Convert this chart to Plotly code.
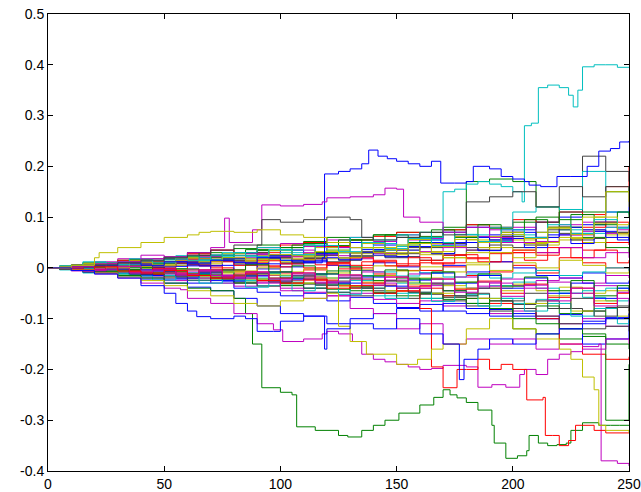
import plotly.graph_objects as go

# ---- data ----
steps = [0, 10, 20, 30, 40, 50, 60, 70, 80, 90, 100, 110, 120, 130, 140, 150,
         160, 170, 180, 190, 200, 210, 220, 230, 240, 250]
steps_b = [0, 5, 15, 25, 35, 45, 55, 65, 75, 85, 95, 105, 115, 125, 135, 145,
           155, 165, 175, 185, 195, 205, 215, 225, 235, 245, 250]

bg01 = [0, .004, .010, .006, .015, .020, .012, .025, .030, .022, .035, .028, .040, .050, .045, .060, .055, .070, .080, .065, .075, .090, .100, .085, .110, .120]
bg02 = [0, -.003, -.008, -.012, -.006, -.015, -.020, -.018, -.030, -.025, -.035, -.040, -.032, -.045, -.050, -.040, -.060, -.055, -.070, -.065, -.080, -.075, -.090, -.085, -.100, -.095]
bg03 = [0, .002, .006, .012, .008, .018, .025, .020, .015, .030, .022, .018, .010, .005, .015, .008, -.005, .010, .020, .012, .030, .025, .040, .035, .050, .045]
bg04 = [0, -.005, -.002, -.010, -.018, -.012, -.025, -.030, -.022, -.035, -.028, -.040, -.048, -.040, -.055, -.050, -.060, -.045, -.052, -.060, -.070, -.062, -.050, -.058, -.065, -.060]
bg05 = [0, .005, .012, .018, .025, .020, .030, .035, .028, .040, .048, .042, .055, .060, .052, .065, .058, .070, .062, .075, .080, .070, .085, .090, .080, .085]
bg06 = [0, -.004, -.010, -.006, -.014, -.020, -.015, -.008, -.018, -.012, -.025, -.018, -.030, -.022, -.015, -.028, -.020, -.035, -.028, -.040, -.032, -.045, -.038, -.050, -.045, -.040]
bg07 = [0, .003, .000, .008, .004, .012, .006, .015, .010, .018, .025, .020, .030, .024, .035, .028, .040, .048, .040, .055, .050, .060, .068, .058, .070, .075]
bg08 = [0, -.002, -.006, -.010, -.015, -.022, -.030, -.025, -.040, -.048, -.055, -.050, -.065, -.058, -.070, -.078, -.072, -.085, -.090, -.082, -.095, -.100, -.092, -.105, -.098, -.090]
bg09 = [0, .006, .010, .015, .012, .022, .030, .025, .038, .045, .040, .052, .060, .055, .065, .070, .062, .075, .085, .078, .090, .100, .095, .110, .150, .160]
bg10 = [0, -.003, .002, -.005, .004, -.002, .006, .000, -.008, .004, -.010, -.004, .008, .000, -.012, -.005, .010, .002, -.015, -.008, .005, -.010, .020, .010, .000, -.005]
bg11 = [0, .004, .008, .005, .012, .018, .014, .022, .018, .026, .030, .024, .035, .040, .048, .042, .055, .050, .060, .052, .065, .070, .075, .068, .080, .085]
bg12 = [0, -.006, -.012, -.008, -.018, -.025, -.020, -.030, -.036, -.028, -.040, -.048, -.055, -.050, -.062, -.070, -.065, -.075, -.080, -.090, -.085, -.095, -.110, -.100, -.115, -.105]
bg13 = [0, .002, .006, .002, .010, .005, .014, .020, .015, .024, .018, .028, .035, .030, .040, .035, .048, .042, .055, .062, .055, .070, .080, .075, .065, .060]
bg14 = [0, -.002, -.006, -.003, -.010, -.016, -.012, -.020, -.014, -.025, -.020, -.032, -.026, -.038, -.045, -.040, -.050, -.058, -.050, -.065, -.072, -.065, -.080, -.085, -.078, -.070]
bg15 = [0, .003, -.002, .006, .001, .010, .004, -.004, .006, -.002, .008, .015, .005, -.005, .010, .002, -.010, .005, -.008, .012, .000, -.015, -.020, -.010, -.030, -.025]
bg16 = [0, -.004, -.008, -.004, -.012, -.008, -.016, -.022, -.028, -.022, -.034, -.030, -.042, -.036, -.048, -.055, -.050, -.062, -.070, -.080, -.120, -.130, -.140, -.135, -.150, -.160]
bg17 = [0, .005, .010, .015, .010, .020, .028, .035, .030, .040, .045, .050, .042, .055, .062, .070, .060, .075, .085, .080, .095, .090, .110, .105, .160, .200]
bg18 = [0, -.002, -.007, -.012, -.009, -.015, -.010, -.018, -.025, -.020, -.015, -.022, -.030, -.025, -.035, -.030, -.022, -.030, -.040, -.035, -.028, -.040, -.050, -.045, -.040, -.045]
bg19 = [0, .002, .004, .009, .014, .010, .018, .013, .020, .026, .022, .030, .024, .018, .028, .022, .032, .040, .035, .050, .058, .052, .065, .072, .068, .075]
bg20 = [0, -.003, -.001, -.006, -.002, -.009, -.004, -.012, -.006, .000, -.008, -.002, -.010, -.004, .004, -.006, .002, -.008, .006, -.005, .010, .000, .015, .005, -.010, -.005]
bg21 = [0, .001, .005, .010, .006, .012, .020, .016, .024, .018, .010, .018, .012, .022, .030, .022, .015, .025, .035, .045, .040, .090, .110, .220, .190, .170]
bg22 = [0, -.005, -.010, -.016, -.022, -.030, -.038, -.045, -.060, -.075, -.090, -.095, -.110, -.100, -.090, -.080, -.085, -.070, -.080, -.095, -.090, -.100, -.120, -.150, -.140, -.080]
bg23 = [0, .003, .008, .004, .012, .016, .010, .020, .028, .034, .040, .048, .044, .055, .065, .060, .070, .080, .170, .175, .170, .120, .080, .060, .040, .030]
bg24 = [0, -.002, -.004, -.009, -.013, -.008, -.015, -.020, -.015, -.025, -.030, -.024, -.035, -.040, -.034, -.046, -.040, -.055, -.060, -.070, -.080, -.100, -.150, -.170, -.180, -.175]
bg25 = [0, .002, .007, .012, .008, .016, .020, .014, .024, .020, .015, .025, .030, .040, .035, .045, .060, .070, .065, .080, .110, .120, .115, .190, .110, .105]
bg26 = [0, -.004, -.002, -.008, -.004, -.012, -.008, -.014, -.020, -.015, -.024, -.018, -.028, -.022, -.030, -.040, -.035, -.045, -.040, -.030, -.035, -.025, -.020, -.030, -.015, -.020]
bg27 = [0, .004, .002, .008, .005, .012, .018, .014, .008, .016, .012, .022, .018, .028, .024, .030, .026, .020, .030, .040, .035, .045, .055, .050, .060, .055]
bg28 = [0, -.003, -.008, -.005, -.012, -.018, -.024, -.018, -.030, -.036, -.030, -.040, -.048, -.055, -.050, -.060, -.052, -.065, -.075, -.085, -.080, -.095, -.110, -.120, -.115, -.125]
bg29 = [0, .002, .005, .002, -.004, .003, .010, .005, .012, .008, .002, .012, .020, .030, .025, .035, .050, .045, .060, .055, .070, .060, .080, .075, .060, .050]
bg30 = [0, -.002, .002, -.004, .001, -.006, -.012, -.008, -.016, -.010, -.020, -.014, -.006, -.015, -.025, -.020, -.030, -.045, -.060, -.080, -.100, -.110, -.120, -.130, -.300, -.190]
bg31 = [0, .003, .009, .004, .013, .009, .017, .012, .005, .014, .008, .000, .010, .020, .012, .004, .015, .025, .018, .028, .035, .030, .040, .080, .090, .085]
bg32 = [0, -.001, -.005, -.010, -.006, -.002, -.010, -.006, -.014, -.010, -.018, -.012, -.020, -.015, -.008, -.016, -.010, -.018, -.012, -.020, -.010, -.005, -.015, -.008, .000, -.006]

ob01 = [0, .003, -.004, .006, .012, .004, .015, .022, .014, .028, .020, .035, .026, .040, .048, .036, .055, .045, .062, .050, .070, .058, .080, .065, .090, .075, .080]
ob02 = [0, -.002, .004, -.006, .002, -.010, -.004, -.016, -.008, -.022, -.014, -.030, -.020, -.036, -.028, -.045, -.032, -.050, -.040, -.060, -.045, -.070, -.055, -.085, -.065, -.095, -.080]
ob03 = [0, .002, .008, .001, .012, .018, .008, .024, .014, .030, .020, .010, .025, .015, .032, .020, .040, .028, .050, .035, .062, .045, .075, .055, .090, .070, .060]
ob04 = [0, -.003, -.009, -.002, -.014, -.006, -.020, -.010, -.026, -.016, -.008, -.022, -.012, -.030, -.018, -.036, -.024, -.010, -.030, -.015, -.040, -.020, -.050, -.030, -.060, -.040, -.045]
ob05 = [0, .004, .010, .004, .016, .008, .022, .030, .018, .036, .025, .045, .030, .055, .040, .065, .050, .075, .060, .085, .070, .095, .080, .105, .085, .110, .100]
ob06 = [0, -.001, .005, -.003, .008, .000, .012, .004, -.004, .010, .002, .016, .006, -.002, .012, .004, .020, .008, .026, .012, .030, .015, .040, .020, .035, .010, .015]
ob07 = [0, -.004, -.010, -.004, -.016, -.024, -.014, -.030, -.020, -.038, -.026, -.045, -.034, -.052, -.040, -.060, -.048, -.066, -.055, -.075, -.060, -.085, -.070, -.095, -.080, -.110, -.100]
ob08 = [0, .001, -.006, .002, -.010, -.002, -.014, -.006, -.020, -.010, -.026, -.014, -.030, -.018, -.008, -.024, -.012, -.030, -.018, -.036, -.022, -.040, -.028, -.050, -.035, -.060, -.070]
ob09 = [0, .003, .009, .003, .014, .006, .020, .012, .028, .018, .034, .024, .040, .030, .048, .036, .056, .042, .062, .050, .070, .058, .080, .066, .100, .085, .090]
ob10 = [0, -.002, -.008, -.002, -.012, -.004, -.016, -.008, -.022, -.012, -.028, -.016, -.034, -.020, -.040, -.026, -.048, -.032, -.055, -.040, -.065, -.050, -.080, -.060, -.095, -.075, -.085]
ob11 = [0, .002, .006, -.002, .008, .002, .012, .004, .018, .008, .024, .012, .028, .016, .036, .022, .042, .028, .050, .034, .058, .040, .065, .048, .072, .055, .060]
ob12 = [0, -.003, .002, -.006, .000, -.010, -.002, -.014, -.004, .006, -.008, .004, -.012, .002, -.016, -.004, -.022, -.008, -.028, -.012, -.036, -.018, -.045, -.025, -.055, -.035, -.040]
ob13 = [0, .001, -.004, .004, -.008, -.002, -.012, -.004, -.016, -.008, -.020, -.010, -.024, -.014, -.030, -.018, -.036, -.022, -.042, -.026, -.050, -.032, -.058, -.040, -.070, -.050, -.045]
ob14 = [0, .004, .012, .006, .018, .010, .024, .016, .030, .022, .036, .026, .044, .032, .050, .038, .058, .044, .066, .052, .075, .060, .085, .068, .095, .078, .085]
ob15 = [0, -.002, -.006, .000, -.010, -.004, -.014, -.006, -.018, -.008, -.022, -.010, -.028, -.014, -.034, -.018, -.040, -.022, -.048, -.028, -.056, -.034, -.065, -.040, -.075, -.048, -.050]
ob16 = [0, .002, .006, .000, .010, .004, .014, .008, .020, .012, .026, .016, .032, .020, .040, .026, .048, .032, .056, .040, .066, .048, .078, .058, .088, .068, .075]

# prominent walks: (step, value) change points
cyan_top_x = [0, 10, 20, 30, 40, 50, 60, 70, 80, 90, 100, 110, 120, 130, 140, 150, 160, 165, 170, 175, 180, 185, 190, 195, 200, 204, 205, 208, 211, 215, 220, 224, 226, 228, 230, 235, 240, 245, 250]
cyan_top_y = [0, .004, .010, .006, .014, .020, .015, .025, .030, .040, .035, .045, .050, .060, .055, .065, .070, .060, .150, .155, .165, .170, .165, .160, .150, .130, .280, .285, .355, .360, .355, .340, .317, .350, .396, .400, .400, .395, .395]

blue_top_x = [0, 10, 20, 30, 40, 50, 60, 70, 80, 90, 100, 110, 118, 119, 125, 130, 135, 138, 142, 146, 150, 155, 160, 165, 169, 175, 180, 183, 190, 195, 200, 205, 207, 212, 219, 225, 232, 237, 242, 246, 250]
blue_top_y = [0, -.003, .004, .010, .005, .012, .008, .015, .010, .020, .015, .010, .020, .185, .190, .195, .205, .232, .220, .215, .210, .205, .200, .210, .167, .167, .170, .200, .195, .180, .175, .170, .163, .160, .180, .180, .200, .230, .235, .248, .250]

mag_top_x = [0, 10, 20, 30, 40, 50, 60, 70, 76, 78, 88, 92, 100, 110, 118, 120, 130, 140, 145, 150, 153, 160, 170, 180, 190, 200, 210, 220, 230, 240, 250]
mag_top_y = [0, .003, .008, .012, .018, .022, .030, .040, .098, .050, .075, .124, .122, .125, .130, .138, .140, .144, .157, .155, .100, .090, .070, .080, .060, .050, .030, .040, .020, .030, .020]

gray_top_x = [0, 10, 20, 30, 40, 50, 60, 70, 80, 92, 100, 110, 120, 130, 135, 140, 150, 160, 170, 180, 190, 200, 210, 220, 230, 240, 250]
gray_top_y = [0, .002, .006, .010, .015, .020, .025, .035, .045, .095, .090, .095, .100, .095, .060, .055, .060, .070, .065, .130, .140, .150, .120, .160, .140, .160, .120]

green_low_x = [0, 10, 20, 30, 40, 50, 60, 70, 80, 85, 88, 92, 100, 105, 107, 115, 125, 129, 135, 140, 145, 151, 160, 166, 170, 173, 176, 180, 185, 191, 192, 197, 202, 206, 207, 211, 215, 219, 223, 225, 230, 237, 242, 246, 250]
green_low_y = [0, -.004, -.008, -.015, -.020, -.030, -.040, -.045, -.060, -.090, -.150, -.236, -.245, -.250, -.313, -.320, -.330, -.333, -.320, -.310, -.300, -.286, -.270, -.255, -.240, -.250, -.256, -.265, -.280, -.310, -.345, -.375, -.370, -.360, -.330, -.345, -.350, -.348, -.345, -.320, -.305, -.310, -.310, -.310, -.310]

mag_low_x = [0, 10, 20, 30, 40, 50, 60, 70, 80, 90, 100, 110, 120, 130, 140, 150, 160, 170, 180, 190, 200, 210, 220, 230, 237, 238, 245, 250]
mag_low_y = [0, .002, -.004, .003, -.006, -.010, -.004, -.015, -.020, -.030, -.045, -.060, -.055, -.080, -.090, -.120, -.110, -.150, -.140, -.150, -.140, -.160, -.150, -.155, -.150, -.380, -.385, -.390]

mag_mid_x = [0, 10, 20, 30, 40, 50, 57, 60, 70, 80, 90, 97, 101, 110, 118, 120, 125, 131, 135, 140, 145, 150, 155, 160, 165, 170, 180, 185, 191, 197, 203, 205, 210, 215, 220, 225, 230, 240, 250]
mag_mid_y = [0, -.005, -.010, -.020, -.030, -.040, -.043, -.060, -.070, -.090, -.110, -.122, -.145, -.140, -.130, -.125, -.130, -.145, -.170, -.180, -.185, -.190, -.195, -.200, -.198, -.192, -.195, -.235, -.230, -.235, -.210, -.200, -.210, -.180, -.170, -.165, -.160, -.140, -.150]

red_low_x = [0, 10, 20, 30, 40, 50, 60, 70, 80, 90, 100, 110, 120, 130, 140, 150, 160, 165, 170, 176, 180, 185, 190, 195, 200, 206, 213, 214, 217, 220, 224, 227, 235, 240, 250]
red_low_y = [0, -.003, .002, -.006, -.010, -.005, -.015, -.020, -.012, -.025, -.030, -.022, -.040, -.035, -.050, -.045, -.080, -.195, -.236, -.200, -.200, -.180, -.200, -.190, -.200, -.260, -.255, -.330, -.330, -.350, -.340, -.310, -.320, -.325, -.325]

yel_low_x = [0, 10, 20, 30, 40, 50, 60, 70, 80, 90, 100, 110, 120, 125, 130, 137, 150, 159, 165, 170, 180, 190, 200, 210, 220, 225, 230, 235, 237, 240, 250]
yel_low_y = [0, -.004, -.010, -.018, -.025, -.035, -.045, -.055, -.070, -.075, -.065, -.060, -.050, -.115, -.145, -.170, -.190, -.180, -.160, -.150, -.120, -.100, -.120, -.140, -.160, -.180, -.215, -.240, -.310, -.320, -.325]

yel_top_x = [0, 10, 20, 22, 30, 40, 50, 60, 65, 70, 80, 90, 100, 110, 120, 130, 140, 150, 160, 170, 180, 190, 200, 210, 220, 230, 240, 250]
yel_top_y = [0, .005, .020, .030, .040, .050, .060, .065, .070, .072, .070, .075, .065, .060, .050, .040, .030, .045, .030, .020, .010, .030, .020, .050, .060, .100, .150, .130]

blue_low_x = [0, 10, 20, 30, 40, 50, 55, 60, 64, 70, 80, 85, 90, 97, 100, 110, 119, 120, 130, 140, 150, 160, 170, 177, 179, 185, 190, 200, 210, 220, 230, 240, 250]
blue_low_y = [0, -.005, -.012, -.020, -.035, -.050, -.070, -.085, -.096, -.100, -.095, -.100, -.125, -.125, -.105, -.095, -.160, -.120, -.110, -.120, -.100, -.130, -.150, -.220, -.180, -.160, -.140, -.150, -.130, -.120, -.110, -.100, -.090]

y_ticks = [-0.4, -0.3, -0.2, -0.1, 0, 0.1, 0.2, 0.3, 0.4, 0.5]
y_tick_text = ["-0.4", "-0.3", "-0.2", "-0.1", "0", "0.1", "0.2", "0.3", "0.4", "0.5"]
x_ticks = [0, 50, 100, 150, 200, 250]
x_tick_text = ["0", "50", "100", "150", "200", "250"]

# MATLAB classic colour order
palette = ["#0000FF", "#008000", "#FF0000", "#00BFBF", "#BF00BF", "#BFBF00", "#404040"]

background = [bg01, bg02, bg03, bg04, bg05, bg06, bg07, bg08, bg09, bg10, bg11,
              bg12, bg13, bg14, bg15, bg16, bg17, bg18, bg19, bg20, bg21, bg22,
              bg23, bg24, bg25, bg26, bg27, bg28, bg29, bg30, bg31, bg32]
background_b = [ob01, ob02, ob03, ob04, ob05, ob06, ob07, ob08, ob09, ob10, ob11,
                ob12, ob13, ob14, ob15, ob16]

prominent = [
    (cyan_top_x, cyan_top_y, palette[3]),
    (blue_top_x, blue_top_y, palette[0]),
    (mag_top_x, mag_top_y, palette[4]),
    (gray_top_x, gray_top_y, palette[6]),
    (green_low_x, green_low_y, palette[1]),
    (mag_low_x, mag_low_y, palette[4]),
    (mag_mid_x, mag_mid_y, palette[4]),
    (red_low_x, red_low_y, palette[2]),
    (yel_low_x, yel_low_y, palette[5]),
    (yel_top_x, yel_top_y, palette[5]),
    (blue_low_x, blue_low_y, palette[0]),
]

fig = go.Figure()
k = 0
for ys in background:
    fig.add_trace(go.Scatter(x=steps, y=ys, mode="lines", line_shape="hv",
                             line=dict(color=palette[k % 7], width=1),
                             showlegend=False, hoverinfo="skip"))
    k += 1
for ys in background_b:
    fig.add_trace(go.Scatter(x=steps_b, y=ys, mode="lines", line_shape="hv",
                             line=dict(color=palette[k % 7], width=1),
                             showlegend=False, hoverinfo="skip"))
    k += 1
for xs, ys, col in prominent:
    fig.add_trace(go.Scatter(x=xs, y=ys, mode="lines", line_shape="hv",
                             line=dict(color=col, width=1),
                             showlegend=False, hoverinfo="skip"))

axis_common = dict(showgrid=False, zeroline=False, showline=True, mirror="ticks",
                   linecolor="#000000", linewidth=1, ticks="inside", ticklen=5,
                   tickcolor="#000000", tickwidth=1, automargin=False,
                   tickfont=dict(family="Liberation Sans, Arial, sans-serif", size=14, color="#000000"))

fig.update_layout(
    width=641, height=492,
    margin=dict(l=48, r=12, t=14, b=21, autoexpand=False),
    paper_bgcolor="#FFFFFF", plot_bgcolor="#FFFFFF",
    xaxis=dict(range=[0, 250], tickvals=x_ticks, ticktext=x_tick_text, **axis_common),
    yaxis=dict(range=[-0.4, 0.5], tickvals=y_ticks, ticktext=y_tick_text, **axis_common),
)

fig.write_html("out.html", config={"displayModeBar": False},
               post_script="document.body.style.margin='0';")
